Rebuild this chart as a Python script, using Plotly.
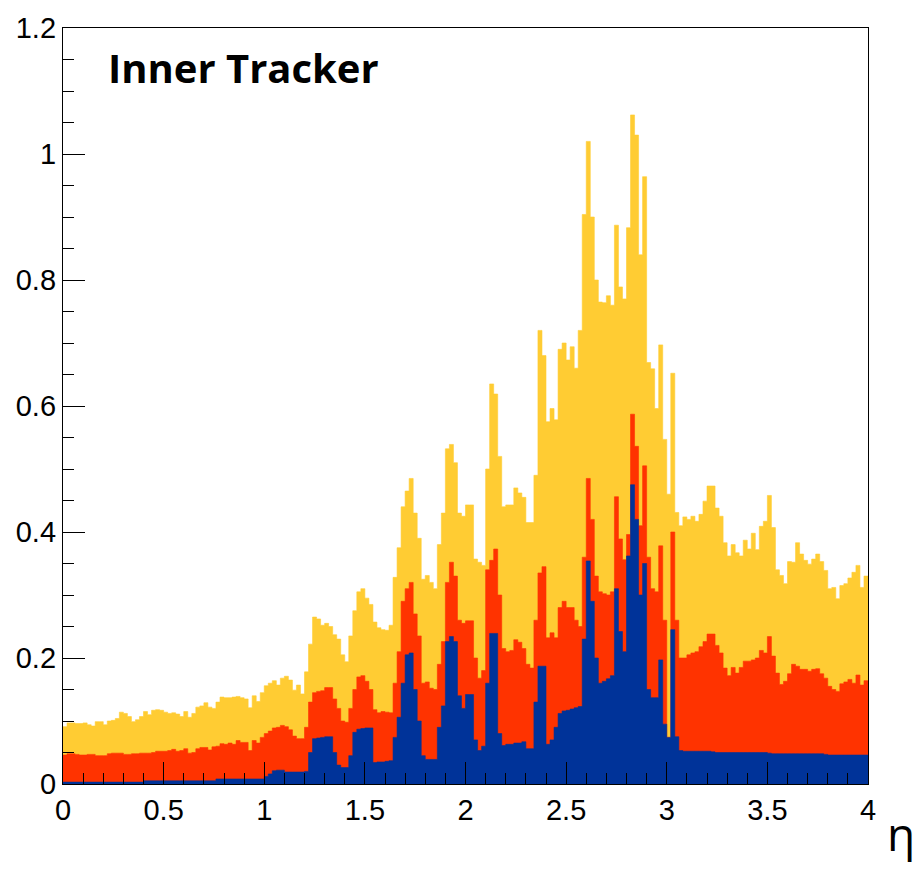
import numpy as np
import plotly.graph_objects as go

# Histogram: 200 bins of width 0.02 in eta from 0 to 4
eta_min, eta_max, n_bins = 0.0, 4.0, 200

yellow = [
    0.091, 0.097, 0.097, 0.096, 0.096, 0.097, 0.094, 0.092, 0.099, 0.099,
    0.094, 0.100, 0.101, 0.104, 0.114, 0.112, 0.107, 0.099, 0.102, 0.107,
    0.115, 0.110, 0.117, 0.118, 0.117, 0.114, 0.112, 0.113, 0.111, 0.107,
    0.115, 0.106, 0.112, 0.122, 0.124, 0.129, 0.122, 0.120, 0.130, 0.138,
    0.137, 0.137, 0.138, 0.139, 0.137, 0.135, 0.121, 0.140, 0.131, 0.145,
    0.156, 0.160, 0.164, 0.157, 0.168, 0.171, 0.165, 0.149, 0.157, 0.143,
    0.178, 0.222, 0.265, 0.262, 0.252, 0.255, 0.250, 0.237, 0.230, 0.205,
    0.194, 0.235, 0.275, 0.305, 0.310, 0.295, 0.285, 0.257, 0.248, 0.245,
    0.244, 0.252, 0.328, 0.375, 0.440, 0.465, 0.485, 0.430, 0.390, 0.325,
    0.331, 0.320, 0.310, 0.380, 0.430, 0.532, 0.539, 0.510, 0.430, 0.425,
    0.443, 0.443, 0.357, 0.352, 0.347, 0.500, 0.635, 0.619, 0.520, 0.440,
    0.443, 0.443, 0.470, 0.462, 0.455, 0.415, 0.415, 0.490, 0.720, 0.680,
    0.575, 0.596, 0.578, 0.690, 0.700, 0.673, 0.694, 0.660, 0.720, 0.904,
    1.020, 0.900, 0.800, 0.765, 0.764, 0.775, 0.760, 0.887, 0.789, 0.770,
    0.883, 1.062, 1.030, 0.840, 0.964, 0.669, 0.659, 0.596, 0.697, 0.547,
    0.460, 0.652, 0.431, 0.410, 0.424, 0.420, 0.425, 0.417, 0.428, 0.449,
    0.473, 0.473, 0.438, 0.425, 0.383, 0.362, 0.380, 0.367, 0.362, 0.387,
    0.373, 0.398, 0.372, 0.409, 0.417, 0.458, 0.407, 0.340, 0.331, 0.318,
    0.353, 0.352, 0.383, 0.365, 0.355, 0.349, 0.357, 0.365, 0.353, 0.339,
    0.310, 0.312, 0.294, 0.315, 0.318, 0.327, 0.336, 0.347, 0.312, 0.330,
]

red = [
    0.046, 0.048, 0.048, 0.047, 0.046, 0.046, 0.047, 0.047, 0.045, 0.045,
    0.045, 0.048, 0.049, 0.049, 0.049, 0.047, 0.047, 0.048, 0.048, 0.049,
    0.049, 0.049, 0.050, 0.052, 0.052, 0.052, 0.053, 0.055, 0.052, 0.053,
    0.056, 0.049, 0.050, 0.056, 0.058, 0.058, 0.054, 0.059, 0.060, 0.064,
    0.063, 0.065, 0.063, 0.069, 0.066, 0.066, 0.053, 0.069, 0.065, 0.074,
    0.080, 0.084, 0.089, 0.090, 0.093, 0.091, 0.086, 0.076, 0.072, 0.072,
    0.090, 0.130, 0.145, 0.147, 0.148, 0.153, 0.153, 0.135, 0.120, 0.100,
    0.098, 0.120, 0.150, 0.170, 0.172, 0.163, 0.150, 0.118, 0.113, 0.115,
    0.114, 0.113, 0.160, 0.210, 0.290, 0.310, 0.320, 0.270, 0.235, 0.160,
    0.162, 0.152, 0.150, 0.190, 0.226, 0.320, 0.352, 0.330, 0.260, 0.255,
    0.259, 0.259, 0.200, 0.168, 0.180, 0.340, 0.355, 0.373, 0.300, 0.215,
    0.210, 0.212, 0.229, 0.225, 0.215, 0.190, 0.184, 0.260, 0.335, 0.345,
    0.232, 0.240, 0.232, 0.280, 0.290, 0.280, 0.280, 0.260, 0.250, 0.360,
    0.485, 0.420, 0.330, 0.305, 0.302, 0.300, 0.305, 0.456, 0.389, 0.356,
    0.396, 0.587, 0.536, 0.410, 0.505, 0.360, 0.310, 0.305, 0.378, 0.260,
    0.074, 0.400, 0.260, 0.200, 0.200, 0.205, 0.208, 0.210, 0.218, 0.226,
    0.238, 0.238, 0.220, 0.208, 0.184, 0.172, 0.185, 0.176, 0.185, 0.195,
    0.195, 0.197, 0.200, 0.212, 0.208, 0.234, 0.203, 0.176, 0.158, 0.163,
    0.175, 0.190, 0.187, 0.182, 0.182, 0.179, 0.182, 0.183, 0.175, 0.168,
    0.155, 0.150, 0.147, 0.159, 0.162, 0.166, 0.160, 0.173, 0.157, 0.164,
]

blue = [
    0.003, 0.003, 0.003, 0.003, 0.003, 0.003, 0.003, 0.003, 0.003, 0.003,
    0.003, 0.003, 0.003, 0.003, 0.003, 0.003, 0.003, 0.003, 0.003, 0.003,
    0.005, 0.005, 0.005, 0.005, 0.005, 0.005, 0.005, 0.005, 0.005, 0.005,
    0.005, 0.005, 0.005, 0.005, 0.005, 0.005, 0.005, 0.005, 0.008, 0.008,
    0.008, 0.008, 0.008, 0.008, 0.008, 0.008, 0.008, 0.008, 0.008, 0.008,
    0.012, 0.016, 0.021, 0.022, 0.022, 0.019, 0.019, 0.019, 0.019, 0.019,
    0.020, 0.050, 0.072, 0.073, 0.074, 0.075, 0.075, 0.050, 0.030, 0.026,
    0.026, 0.045, 0.082, 0.087, 0.088, 0.089, 0.089, 0.034, 0.035, 0.035,
    0.036, 0.037, 0.074, 0.106, 0.160, 0.205, 0.208, 0.150, 0.100, 0.045,
    0.039, 0.039, 0.039, 0.090, 0.124, 0.226, 0.234, 0.226, 0.140, 0.120,
    0.142, 0.142, 0.070, 0.053, 0.060, 0.160, 0.239, 0.239, 0.080, 0.061,
    0.063, 0.063, 0.065, 0.065, 0.067, 0.056, 0.056, 0.130, 0.187, 0.187,
    0.063, 0.070, 0.090, 0.112, 0.116, 0.117, 0.119, 0.121, 0.123, 0.230,
    0.354, 0.290, 0.200, 0.160, 0.163, 0.167, 0.172, 0.310, 0.242, 0.210,
    0.362, 0.475, 0.420, 0.300, 0.350, 0.150, 0.137, 0.137, 0.197, 0.095,
    0.074, 0.245, 0.075, 0.053, 0.052, 0.052, 0.052, 0.052, 0.052, 0.052,
    0.052, 0.051, 0.050, 0.050, 0.050, 0.050, 0.050, 0.050, 0.050, 0.050,
    0.050, 0.050, 0.050, 0.050, 0.050, 0.049, 0.048, 0.048, 0.048, 0.048,
    0.048, 0.048, 0.048, 0.048, 0.048, 0.048, 0.048, 0.048, 0.048, 0.047,
    0.046, 0.046, 0.046, 0.046, 0.046, 0.046, 0.046, 0.046, 0.046, 0.046,
]

series = [
    ("yellow", yellow, "rgb(255,204,51)"),
    ("red", red, "rgb(255,51,0)"),
    ("blue", blue, "rgb(0,51,153)"),
]

edges = np.linspace(eta_min, eta_max, n_bins + 1)

fig = go.Figure()
for name, vals, col in series:
    y = list(vals) + [vals[-1]]
    fig.add_trace(go.Scatter(
        x=edges, y=y, mode="lines", line=dict(shape="hv", width=0.6, color=col),
        fill="tozeroy", fillcolor=col, name=name, showlegend=False,
        hoverinfo="skip",
    ))

tickfont = dict(family="Liberation Sans, Arial, sans-serif", size=29, color="black")

fig.update_layout(
    width=921, height=871,
    margin=dict(l=63, r=53, t=20, b=87),
    paper_bgcolor="white", plot_bgcolor="white",
    xaxis=dict(
        range=[0, 4], dtick=0.5, tick0=0, ticks="inside", ticklen=22, tickwidth=1.3,
        tickcolor="black", showgrid=False, zeroline=False,
        showline=True, linecolor="black", linewidth=1.3, mirror=True,
        tickfont=tickfont,
        minor=dict(dtick=0.1, ticks="inside", ticklen=11, tickwidth=1.2, tickcolor="black", showgrid=False),
    ),
    yaxis=dict(
        range=[0, 1.2], dtick=0.2, tick0=0, ticks="inside", ticklen=22, tickwidth=1.3,
        tickcolor="black", showgrid=False, zeroline=False,
        showline=True, linecolor="black", linewidth=1.3, mirror=True,
        tickfont=tickfont,
        minor=dict(dtick=0.05, ticks="inside", ticklen=11, tickwidth=1.2, tickcolor="black", showgrid=False),
    ),
    annotations=[
        dict(text="<b>Inner Tracker</b>", xref="paper", yref="paper", x=0.054, y=0.948,
             xanchor="left", yanchor="middle", showarrow=False,
             font=dict(family="Open Sans, Noto Sans, sans-serif", size=40, color="black")),
        dict(text="η", xref="paper", yref="paper", x=1.041, y=-0.109,
             xanchor="center", yanchor="bottom", showarrow=False,
             font=dict(family="Open Sans, Noto Sans, sans-serif", size=46, color="black")),
    ],
)

fig.write_html("out.html")
